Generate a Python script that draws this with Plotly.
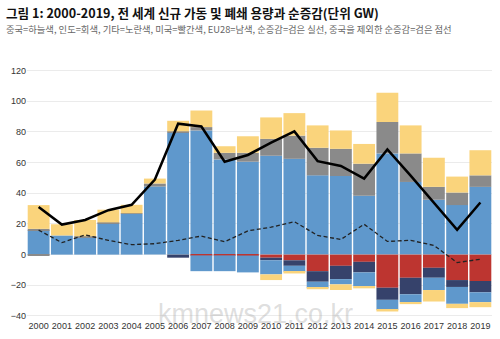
import plotly.graph_objects as go

years = list(range(2000, 2020))

# new capacity (positive)
china_new = [16.0, 12.5, 11.0, 20.5, 26.5, 44.4, 79.4, 81.0, 62.1, 60.6, 64.5, 62.5, 51.7, 51.3, 38.4, 66.0, 47.4, 35.8, 32.3, 44.2]
india_new = [0.8, 0.0, 1.0, 0.5, 0.5, 2.0, 1.0, 2.2, 4.3, 5.8, 11.0, 15.1, 18.0, 17.7, 20.9, 20.5, 18.6, 8.4, 8.2, 7.5]
other_new = [15.5, 7.3, 10.6, 8.3, 5.5, 3.2, 6.9, 10.8, 4.3, 10.8, 14.0, 14.7, 14.6, 12.0, 12.9, 19.1, 18.3, 19.0, 10.4, 16.4]

# retirements (negative)
us_ret = [0, 0, 0, 0, 0, 0, 0, -0.5, -0.5, -0.6, -2.0, -3.7, -10.8, -7.3, -4.7, -21.6, -15.1, -8.6, -16.6, -17.2]
eu_ret = [0, 0, 0, 0, 0, 0, -2.0, 0, 0, 0, -1.7, -3.6, -6.9, -8.7, -6.9, -7.9, -10.8, -6.5, -4.5, -7.4]
india_ret = [-0.8, 0, 0, 0, 0, 0, 0, 0, 0, 0, 0, 0, 0, 0, 0, 0, 0, 0, 0, 0]
china_ret = [0, 0, 0, 0, 0, 0, 0, -10.3, -10.3, -11.0, -9.2, -3.9, -3.9, -3.4, -8.9, -6.5, -5.1, -8.0, -11.0, -6.4]
other_ret = [0, 0, 0, 0, 0, 0, 0, 0, 0, 0, -3.7, -1.1, -1.0, -3.7, -1.5, -1.1, -1.3, -7.5, -2.8, -3.3]

net = [31.0, 19.6, 22.6, 29.0, 32.5, 49.0, 85.4, 83.6, 60.6, 65.0, 73.0, 80.4, 61.0, 57.8, 49.6, 68.6, 51.5, 33.5, 16.2, 34.0]
net_ex_china = [16.0, 7.8, 12.9, 9.3, 6.5, 7.1, 9.3, 12.1, 8.4, 15.5, 17.9, 21.5, 12.5, 9.9, 19.8, 8.6, 9.3, 6.0, -5.2, -3.0]

C_BLUE = '#5f98cc'
C_GRAY = '#8a8a8a'
C_YEL = '#fad47c'
C_RED = '#bd3530'
C_NAVY = '#36426b'

fig = go.Figure()

def bar(vals, color, name):
    fig.add_trace(go.Bar(x=years, y=vals, marker=dict(color=color, line=dict(width=0)), name=name))

bar(china_new, C_BLUE, '중국')
bar(india_new, C_GRAY, '인도')
bar(other_new, C_YEL, '기타')
bar(us_ret, C_RED, '미국')
bar(eu_ret, C_NAVY, 'EU28')
bar(india_ret, C_GRAY, '인도 폐쇄')
bar(china_ret, C_BLUE, '중국 폐쇄')
bar(other_ret, C_YEL, '기타 폐쇄')

fig.add_trace(go.Scatter(x=years, y=net, mode='lines', line=dict(color='black', width=2.5), name='순증감'))
fig.add_trace(go.Scatter(x=years, y=net_ex_china, mode='lines', line=dict(color='#222222', width=1.3, dash='4px,2.5px'), name='중국 제외 순증감'))

L, R, T, B = 27, 8, 62.7, 18
pw = 500 - L - R
ph = 339 - T - B

def px(xp):
    return (xp - L) / pw

def py(yp):
    return (339 - B - yp) / ph

fig.update_layout(
    width=500, height=339,
    margin=dict(l=L, r=R, t=T, b=B),
    barmode='relative', bargap=0.06,
    showlegend=False,
    plot_bgcolor='white', paper_bgcolor='white',
    hovermode=False,
    font=dict(family='Liberation Sans, Arial, sans-serif', size=9, color='#333333'),
    xaxis=dict(range=[1999.5, 2019.5], tickmode='array', tickvals=years, ticktext=[str(y) for y in years],
               showgrid=False, zeroline=False, showline=False, ticks='', tickfont=dict(size=9, color='#333333')),
    yaxis=dict(range=[-42, 125], tickmode='array', tickvals=[-40, -20, 0, 20, 40, 60, 80, 100, 120],
               showgrid=True, gridcolor='#ebebeb', gridwidth=1, zeroline=False, showline=False, ticks='',
               tickfont=dict(size=9, color='#333333')),
    annotations=[
        dict(text='<b>그림 1: 2000-2019, 전 세계 신규 가동 및 폐쇄 용량과 순증감(단위 GW)</b>',
             xref='paper', yref='paper', x=px(4), y=py(12), xanchor='left', yanchor='middle', showarrow=False,
             font=dict(family='Noto Sans CJK KR', size=12.6, color='#111111')),
        dict(text='중국=하늘색, 인도=회색, 기타=노란색, 미국=빨간색, EU28=남색, 순증감=검은 실선, 중국을 제외한 순증감=검은 점선',
             xref='paper', yref='paper', x=px(4), y=py(28), xanchor='left', yanchor='middle', showarrow=False,
             font=dict(family='Noto Sans CJK KR', size=9.3, color='#666666')),
        dict(text='kmnews21.co.kr', xref='paper', yref='paper', x=px(255), y=py(316), xanchor='center', yanchor='middle',
             showarrow=False, font=dict(family='Liberation Sans, Arial', size=27, color='rgba(170,170,170,0.4)')),
    ],
)

fig.write_html('out.html')
